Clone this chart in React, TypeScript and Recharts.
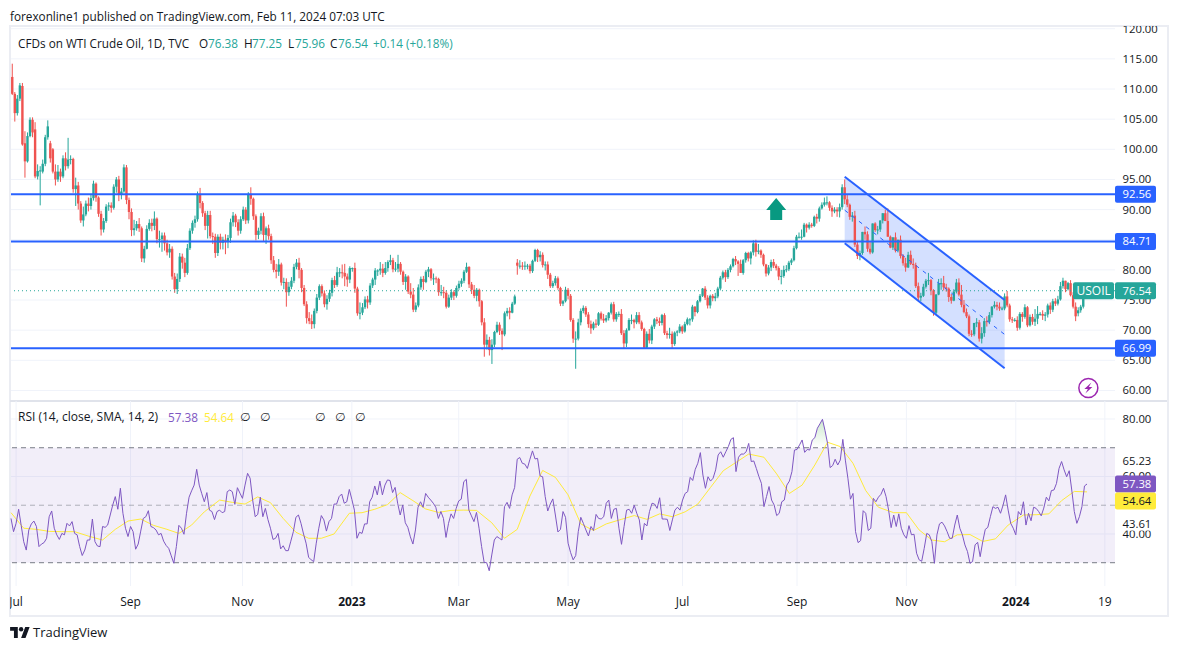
import {
  Area,
  Bar,
  CartesianGrid,
  ComposedChart,
  Line,
  ReferenceArea,
  ReferenceDot,
  ReferenceLine,
  XAxis,
  YAxis,
} from "recharts";

const opens = [
  112,109.2,106,108.4,110.5,101,98,102.2,104.9,103.3,
  95.5,96.4,96.3,97.6,102,101,100,96.3,95,96.3,
  95.5,98.5,97.2,98.3,98.4,93.4,94,91,88.2,89.2,
  91,90.6,91.9,94.3,92,89.3,86.7,88.1,90.5,90.7,
  90.3,93.8,95,92.5,93,97,91.6,89.6,86.6,86.9,
  87.6,86.9,81.9,83.5,86.8,87.8,87.3,88.5,85.1,85.1,
  85.7,84.4,82.9,83.5,78.9,76.8,78.5,82.2,81.2,79.5,
  83.6,86.5,87.8,88.4,92.6,91.1,89.4,87.3,89.1,85.6,
  85.5,82.8,85.5,84.5,85,84.6,85.3,87.9,89,87.9,
  86.5,88.4,90,88.2,92.6,91.8,88.9,85.8,86.5,88.9,
  85.8,86.9,85.6,81.6,80,79.7,80.9,77.9,78,76.3,
  77.2,78.2,80.5,81.2,80,77,74.3,72,71.5,71,
  73.2,75.4,77.3,76.1,74.3,75.2,76.2,78.3,77.5,79.6,
  79.6,79.5,78.9,78.4,80.3,80.3,76.9,72.8,72.9,73.8,
  75.1,74.6,77.4,78.4,79.9,79.9,80.2,79.5,80.3,81.3,
  81.6,80.1,80.2,81,79.7,78,78.9,76.4,75.9,73.4,
  74.1,77.1,78.5,78,79.7,80.1,78.6,78.6,78.5,76.3,
  76.3,76.2,73.9,75.4,76.3,75.7,77,77.7,78.2,79.7,
  80.5,77.6,76.7,75.7,76.7,74.8,71.3,67.6,68.4,66.7,
  67.6,69.7,70.9,69.9,69.3,72.8,73.2,72.9,74.4,81.2,
  80.7,80.7,80.6,80.7,80.7,79.8,81.5,83.3,82.1,82.5,
  80.8,80.9,79.2,77.3,77.8,78.6,77,74.4,74.8,76.7,
  75.7,71.7,68.6,68.6,71.3,73.2,73.7,72.6,71,70.3,
  71.1,70.9,72.8,71.9,71.6,72,72.9,74.3,71.8,72.7,
  72.7,69.5,67.8,70,71.7,71.7,71.3,72.5,71.3,70.2,
  67.1,69.4,68.3,70.6,71.8,71.5,71.2,72.5,69.5,69.2,
  69.4,67.7,69.6,69.8,70.6,69.8,71,71.8,71.8,73.9,
  73,74.8,75.7,76.9,75.4,74.1,75.7,75.3,75.6,76.9,
  78.7,79.6,78.8,80,80.6,81.8,81.4,81,79.5,81.6,
  82.8,81.9,82.9,84.4,83,83.2,82.5,80.9,79.4,80.4,
  81.3,80.7,80.3,78.9,79,80,80.1,81.2,81.6,83.6,
  85.5,85.5,85.5,87.5,87,87.5,87.3,88.8,88.5,90.2,
  90.8,91.2,91.2,90.3,89.7,90,89.7,90.4,93.7,91.7,
  90.8,88.8,89,84.2,82.3,82.8,86.3,85.9,83.5,82.9,
  87.7,86.6,86.7,88.2,89.4,88.1,85.5,83.7,85.4,83.2,
  85,82.3,81.1,80.4,82.5,81,80.8,77.3,75.4,75.7,
  77.2,78.2,78.3,76.6,72.9,75.9,77.8,77.8,77.1,76.9,
  75.5,74.9,76.4,77.9,75.9,74.2,73,72.3,69.4,69.3,
  71.2,71.3,68.6,69.5,71.5,71.4,72.5,73.9,74.2,73.9,
  73.6,73.6,75.6,74.1,71.8,71.7,71.7,70.4,72.7,72.2,
  73.8,70.8,72.2,71.4,71.9,72.7,72.7,72.4,72.6,74.1,
  73.4,74.8,74.4,75.1,77.3,78.2,76.8,77.8,75.8,73.9,
  72.8,73.3,73.9,76.38,
];

const highs = [
  114.2,109.5,109,111,111,103,102.8,105.3,105.3,104.5,
  97.5,97.2,98.3,102.4,104.8,101.4,100.2,97.5,97.4,96.8,
  99,99.5,101.9,99,98.6,95.3,94.6,91.4,90.5,91.5,
  92,92.6,94.8,94.5,92.2,89.8,88.6,90.9,91.2,91.2,
  94.2,95.4,95.6,93.6,97.5,97.4,92,90.2,88.3,88.1,
  88.6,87.2,84,87.4,88.4,88.5,89.7,88.7,86.5,86.2,
  86.2,85,84.3,83.9,79.5,79.4,82.8,82.7,82,84.3,
  86.9,88.2,89,93,93.6,91.4,89.8,89.8,89.8,86.2,
  86,85.9,86,85.5,85.9,85.8,88.5,89.6,89.3,88.4,
  88.9,90.5,90.4,92.9,93.7,92,89.2,87,89.4,89.5,
  87.2,87.5,86,82.3,81,81.8,81.2,78.7,78.6,78,
  78.8,81,81.8,82,80.3,77.5,74.8,73,72.6,73.6,
  76,77.6,77.6,76.6,75.8,76.7,78.7,79,80.5,80.3,
  80.9,81,79.4,80.6,80.4,81.2,77.2,74.6,74.5,75.6,
  75.7,77.8,78.7,80.3,80.1,81.3,81,81.3,81.6,82.5,
  82,81.3,82.5,81.3,79.9,79.3,79.1,77.8,77,74.6,
  77.6,78.9,79,80,80.5,80.3,79.4,78.9,78.7,77.5,
  77.2,76.6,75.9,76.8,76.6,77.4,78.2,78.6,80,81.2,
  80.6,78,77.5,77,76.9,75,72,69.3,68.9,68.5,
  69.9,71.4,71.3,70.3,73.1,73.7,73.8,74.7,75.9,81.8,
  81.6,81.3,81.4,81,81,81.7,83.5,83.5,83.1,82.9,
  81.4,81.4,79.5,78.2,79,78.9,77.2,75,77.2,77,
  76,72,69.8,71.9,73.6,74.1,74,73,71.6,71.4,
  71.8,73,73.1,72.7,72.5,73,74.6,74.7,73,73.1,
  73.5,70,70.3,72,72.6,71.9,73,73,71.6,70.4,
  69.8,70.2,70.9,72,72.2,72.1,72.7,72.8,69.9,70.4,
  69.8,69.8,70,71,70.8,71.4,72.1,72,74.2,74,
  75,76,77,77.3,75.8,75.9,76,76.2,77.2,79,
  79.9,80,80.3,80.9,82,82.3,81.6,81.7,81.8,83,
  83,83.1,84.9,85,84.3,83.4,82.7,81,80.8,81.7,
  81.8,81,80.6,80,80.7,80.8,81.5,81.9,84,85.8,
  86.2,86.7,87.8,87.7,87.9,87.8,89,89.3,90.5,91.2,
  92,92.2,91.4,90.7,90.4,90.4,91,94.2,95,92.4,
  91,89.6,89.8,84.7,83.2,84.2,87.2,86.4,84.6,85.3,
  87.9,87.3,87.5,89,90,90.2,85.7,84.5,86.2,84.8,
  85.7,82.6,82,83,83.2,81.9,81.2,77.9,76.2,77.7,
  78.5,79.5,78.5,76.8,76,78.5,78.6,79,77.7,77.1,
  76,76.8,78.5,78.6,77.5,75,73.6,72.6,70,70.4,
  72,71.7,70.5,72,72.3,73,74,74.8,74.7,74.6,
  73.9,76.1,76.5,74.4,72.2,72,72.3,73,73,74.3,
  74,72.6,72.7,73.5,74,73,73.3,73,74.4,74.6,
  75.2,75.3,75.7,78,78.7,77.6,78,78.3,76.3,74.6,
  73.8,74.2,76.6,77.25,
];

const lows = [
  109,104.6,105.6,108,100.6,95.3,97.8,102,102,95.2,
  95,90.7,96,97.2,101.6,97.8,96,94,94.6,94.6,
  95.2,96.5,96.8,97.5,92.8,90.6,90,87.8,87.2,88.9,
  89.7,90,91.5,91.3,88.8,85.7,86.2,87.8,89.8,89.5,
  90,92.8,91.4,91.7,92.8,90.9,88.4,85.6,85.7,86.5,
  86.3,81.3,81.2,83.4,86.5,86.4,86.6,84.4,83.7,83,
  83.2,82.4,82,78.4,76.2,76,78,80.2,78.8,79.2,
  83.3,86,87,88,90.2,88.8,86.6,85.2,85.2,84.3,
  82,82.3,83.4,83.4,82.6,83.6,84.5,87.2,87.1,85.7,
  86,88.1,87.6,87.7,90.8,88.3,84.9,85.1,85.9,84.8,
  84.3,85,81,79.6,78.6,79,77.4,76.8,73.9,75.7,
  76.8,77.8,80.1,78.6,76.3,74,71.1,71,70.2,70.3,
  72.8,75,75.6,73.8,73.4,74.7,75.6,77,77.2,78.8,
  78.6,77.3,77.2,77.8,79.7,76.2,72.4,71.8,72.5,73.5,
  73.6,74.2,77,77.5,79,79.2,78.8,79.2,79.7,80.8,
  79.6,79.7,79.6,79.2,77.5,76.7,76,75.3,73,73,
  73.8,76.7,76.7,77.8,78.8,78.2,77.5,77.8,75.7,75.7,
  75.3,73.6,73.7,75,75,75.4,76.7,77.2,77.8,79.5,
  77,76,75.3,74.8,73.9,70.8,65.6,66.8,65.8,64.4,
  67.2,69.5,69.2,66.7,69,72.3,71.8,72.8,74.2,79.2,
  80.2,80,80,80.1,79.4,79.5,81.3,81.3,81.4,80.4,
  79.9,78.5,77,77,77.4,76.7,74,74,74.6,75.1,
  71.4,67.9,63.6,68.3,70.8,72.8,72.2,70.4,69.4,70,
  70.4,70.7,71.6,71.2,71.3,71.6,72.6,71.4,71.4,72.2,
  69.2,67,67.2,69.9,71,70.3,71,71,69.9,66.9,
  67,67.8,67.7,70.2,71,70.7,70.8,69.2,68.6,68.6,
  67,67.4,69,69.5,69.4,69.6,70.8,70.8,71.4,72.3,
  72.8,74.6,75.5,75,73.6,73.6,74.8,74.8,75.3,76.6,
  78.4,78,78.5,79.6,80.4,80.8,79,80.9,79.2,81.2,
  81.4,80.9,82.4,82.2,82.6,82,80.6,78.9,79.1,79.8,
  80.3,79.9,78.3,77.6,78.7,79.6,79.8,80.8,81.4,83.4,
  85.2,85,85.4,86.2,86.7,87,87.1,87.7,88,90,
  90.5,90.7,89.8,88.8,89.4,88.8,88.7,90,90.9,90.4,
  88.3,88,83.8,81.8,81.6,82.5,85,83,82.6,82.7,
  86.3,85.9,86.3,87.7,88.1,87.9,83.6,83.3,82.9,82.9,
  81.9,80.7,79.7,80.3,80.8,80.2,77,75,74.8,75.5,
  76.9,77.5,75.8,72.4,72.5,75.8,76.7,76.6,76.4,74.7,
  74.4,74.8,76.1,75.6,73.8,72.8,72,69,68.9,69,
  70.5,68.1,67.8,68.9,70.6,71,72.1,73.6,73.3,73.2,
  73.3,73.3,73.8,71.4,71.2,71.4,69.9,70.1,71.4,71.9,
  70.5,70.6,70.9,70.7,71,72.4,71.7,71.5,72.1,72.7,
  73,74,74.1,74.9,76.9,76.3,76.6,75.6,73.6,71.5,
  72.3,72.9,73.6,75.96,
];

const closes = [
  109.2,106,108.4,110.6,100.8,98,102.2,104.9,102.8,95.5,
  96.4,96.5,97.6,102,103.8,98.5,96.3,95,96.3,95.5,
  98.5,97.2,98.3,98.4,93.4,94,91,88.2,89.2,91,
  90.6,91.9,94.3,92,89.3,86.7,88.1,90.5,90.7,90.3,
  93.8,95,92.5,93,97,91.6,89.6,86.6,86.9,87.6,
  86.9,81.9,83.5,86.8,87.8,87.3,88.5,85.1,85.1,85.7,
  84.4,82.9,83.5,78.9,76.8,78.5,82.2,81.2,79.5,83.6,
  86.5,87.8,88.4,92.6,91.1,89.4,87.3,89.1,85.6,85.5,
  82.8,85.5,84.5,85,84.6,85.3,87.9,89,87.9,86.5,
  88.4,90,88.2,92.6,91.8,88.9,85.8,86.5,88.9,85.8,
  86.9,85.6,81.6,80,79.7,80.9,77.9,78,76.3,77.2,
  78.2,80.5,81.2,80,77,74.3,72,71.5,71,73.2,
  75.4,77.3,76.1,74.3,75.2,76.2,78.3,77.5,79.6,79.6,
  79.5,78.9,78.4,80.3,80.3,76.9,72.8,72.9,73.8,75.1,
  74.6,77.4,78.4,79.9,79.9,80.2,79.5,80.3,81.3,81.6,
  80.1,80.2,81,79.7,78,78.9,76.4,75.9,73.4,74.1,
  77.1,78.5,78,79.7,80.1,78.6,78.6,78.5,76.3,76.3,
  76.2,73.9,75.4,76.3,75.7,77,77.7,78.2,79.7,80.5,
  77.6,76.7,75.7,76.7,74.8,71.3,67.6,68.4,66.7,67.6,
  69.7,70.9,69.9,69.3,72.8,73.2,72.9,74.4,75.6,80.7,
  80.7,80.6,80.7,80.7,79.8,81.5,83.3,82.1,82.5,80.8,
  80.9,79.2,77.3,77.8,78.6,77,74.4,74.8,76.7,75.7,
  71.7,68.6,68.6,71.3,73.2,73.7,72.6,71,70.3,71.1,
  70.9,72.8,71.9,71.6,72,72.9,74.3,71.8,72.7,72.7,
  69.5,67.8,70,71.7,71.7,71.3,72.5,71.3,70.2,67.1,
  69.4,68.3,70.6,71.8,71.5,71.2,72.5,69.5,69.2,69.4,
  67.7,69.6,69.8,70.6,69.8,71,71.8,71.8,73.9,73,
  74.8,75.7,76.9,75.4,74.1,75.7,75.3,75.6,76.9,78.7,
  79.6,78.8,80,80.6,81.8,81.4,81,79.5,81.6,82.8,
  81.9,82.9,84.4,83,83.2,82.5,80.9,79.4,80.4,81.3,
  80.7,80.3,78.9,79,80,80.1,81.2,81.6,83.6,85.5,
  85.5,85.5,87.5,87,87.5,87.3,88.8,88.5,90.2,90.8,
  91.2,91.2,90.3,89.7,90,89.7,90.4,93.7,91.7,90.8,
  88.8,89,84.2,82.3,82.8,86.3,85.9,83.5,82.9,87.7,
  86.6,86.7,88.2,89.4,88.1,85.5,83.7,85.4,83.2,85,
  82.3,81.1,80.4,82.5,81,80.8,77.3,75.4,75.7,77.2,
  78.2,78.3,76.6,72.9,75.9,77.8,77.8,77.1,76.9,75.5,
  74.9,76.4,77.9,75.9,74.2,73,72.3,69.4,69.3,71.2,
  71.3,68.6,69.5,71.5,71.4,72.5,73.9,74.2,73.9,73.6,
  73.6,75.6,74.1,71.8,71.7,71.7,70.4,72.7,72.2,73.8,
  70.8,72.2,71.4,71.9,72.7,72.7,72.4,72.6,74.1,73.4,
  74.8,74.4,75.1,77.3,78.2,76.8,77.8,75.8,73.9,72.3,
  73.3,73.9,76.4,76.54,
];

const rsiValues = [
  45.4,40.8,43.7,48.6,43,37.3,34.4,41.4,43.5,44.5,
  42.6,35.6,36.5,37,38.5,46,48,42,39.7,38.1,
  40.2,39.7,43.7,42.8,44.3,40.2,39.7,35.6,32.5,34.4,
  37.9,37.9,45.2,37.3,35.8,35.6,42.6,42.3,43.1,46.6,
  50.1,53,48.6,55.9,47.2,42,39.1,42.6,40.8,34.7,
  36.5,41,45.4,46,48.1,42.6,42.2,41.4,39.7,40.2,
  37.5,36,35,32.4,29.8,35.6,43,42,39.9,47.2,
  52.8,55,57,62.5,57,54,51.2,54.4,48.3,47.8,
  45,47.8,48.3,47.4,47.8,54.7,55.3,54.7,50.3,56.1,
  54.2,52.4,57,61.1,59.4,51.8,46,46.8,52.8,46,
  48.9,45,42,38.1,38.5,40.2,34.8,35.9,34.2,34.2,
  37.5,40.8,45.8,46.6,43.7,40,36.8,31.9,31,30.4,
  36.8,42,46.4,44.9,41,44.3,45.4,50.4,50.4,53,
  53.9,50.7,51.2,55.5,52,48.3,38.5,40.6,40.2,43.5,
  43.5,51.2,52.8,56.7,53.6,58.4,53.6,57,58.8,58.6,
  54.4,56.2,50.7,46.6,50.1,43.9,42.3,39,36.5,41.4,
  49.3,51.2,49.3,54.1,52.8,51.8,50.7,49.3,45.4,47.8,
  45.4,38.8,43.7,47,45.4,48.9,51.5,52.1,58.2,59,
  48.3,46.3,44.3,47.5,42,35.6,30.1,30,27.2,32.7,
  37.9,39.1,38.5,37.9,49.5,51,48.9,53.6,56.2,66,
  66.6,64.6,64.3,62.8,66,68.9,66.1,66.3,60.2,59.9,
  53,48,50.4,52.2,46.6,40.7,41.6,47.8,45.8,36.8,
  33.5,31,32.5,40.8,45.8,43.7,41.4,39.3,42.6,41.2,
  46.8,45.4,45.2,46,50.7,51.8,45.4,48.6,48.9,42,
  36.4,42.6,48.3,48.6,47.2,50,47.2,44.9,37.9,43.7,
  42.8,47.8,50.7,50.4,48.9,52.6,45.2,45.2,45.1,41.2,
  44.9,48.3,49.3,48.3,51.8,54.1,54.7,59.7,58.6,62.5,
  64.6,68.3,60.5,55.9,59.9,58.4,59.4,62.3,67.5,68.6,
  66.7,68.6,70.4,72.9,73.5,61.7,66.7,67.8,67.8,68.6,
  71.5,65.2,65.4,62.8,60,57.6,49.5,53,56.5,51.8,
  50.1,46.4,47.2,51.2,51.8,57,58.4,61.7,69.2,69.4,
  71,72.7,68.4,69.4,69.2,72.7,73.5,76.8,78.3,79.9,
  76,71.5,63.1,63.8,66,64,65.7,72.9,65.7,59.4,
  52.1,54.1,40.8,37,37.7,48.1,47.2,41.2,42,52.4,
  51.2,52.8,53.8,55.9,53,48.3,42.2,46.6,42.6,47,
  42,39.7,38.5,42.9,39.7,39.9,33.3,31,30.5,35,
  40.2,39.7,37.3,29.8,39.7,43.5,44.1,42.8,40.8,38.5,
  38.5,43.1,46.6,42,39.7,36.2,33.9,29.8,30.4,36.2,
  37.1,32.1,37.3,41.6,42.3,46,49.5,48.9,49.3,47.2,
  50,53.6,48.3,43.7,42,39.7,47.8,46.6,51.2,43.1,
  47.2,44.6,49.3,48.9,47.8,46.3,49,52.8,51.5,55.1,
  55.3,57.6,62.8,65.2,62.3,59.9,62,55.3,47.8,43.7,
  46,49.5,56.7,57.38,
];

// yellow RSI average at even steps along the line
const rsiAverage = [
  47.4,42,41.6,40.9,40.8,40.8,39.1,37.9,41.6,44.5,45.2,43,41.7,40.2,43.1,47.7,51.8,51,50.4,52.9,50.9,
  45.4,40.6,38.5,38.5,40,47.2,47.4,48.6,50.2,54.4,51.6,48.7,47.5,48.2,48.3,48.2,43.9,38.5,41.6,53.2,
  62.1,59.7,53.6,43.5,41.2,43.5,45.1,46.4,45.1,47,46,47.7,50.4,56.2,62,64.9,67.8,66.7,60.9,54.1,
  57,64,71.9,70.4,64.6,55.1,49.3,47.4,47.4,41.4,37.9,37.3,39.7,39.8,37.4,38.3,43.1,46.6,46.7,47,
  51.6,54.8,54.64,
];

const timeRows = [2, 47, 91, 134, 176, 219, 264, 309, 352, 395, 430];
const timeLabels = ["Jul", "Sep", "Nov", "2023", "Mar", "May", "Jul", "Sep", "Nov", "2024", "19"];

const priceGrid = [60, 65, 70, 75, 80, 85, 90, 95, 100, 105, 110, 115, 120];
const priceLevels = [92.56, 84.71, 66.99];
const lastPrice = 76.54;

const channelRows = [328, 391];
const channelTop = [95.46, 75];
const channelBottom = [84.41, 63.68];
const channelMiddle = [89.9, 69.3];

const rsiGrid = [80, 60, 40];
const rsiPlain = [65.23, 43.61];
const rsiLast = 57.38;
const rsiAverageLast = 54.64;

const ROW_COUNT = 435;
const LABEL_X = 1112.5;
const TAG_X = 1105;
const AXIS_FONT = 11.3;
const font = "'Open Sans', sans-serif";

const UP = "#26a69a";
const DOWN = "#ef5350";
const BLUE = "#2962ff";
const GRID = "#f0f3fa";
const INK = "#131722";
const PURPLE = "#7e57c2";
const YELLOW = "#ffeb3b";

const averageAt: Record<number, number> = {};
rsiAverage.forEach((v, i) => {
  averageAt[Math.round((i * (closes.length - 1)) / (rsiAverage.length - 1))] = v;
});

const rows = Array.from({ length: ROW_COUNT }, (_, row) => {
  const base: any = { row };
  if (row < closes.length) {
    base.open = opens[row];
    base.close = closes[row];
    base.high = Math.max(highs[row], opens[row], closes[row]);
    base.low = Math.min(lows[row], opens[row], closes[row]);
    base.range = [base.low, base.high];
    base.rsi = rsiValues[row];
    base.overbought = rsiValues[row] > 70 ? [70, rsiValues[row]] : null;
  }
  if (averageAt[row] !== undefined) base.rsiAverage = averageAt[row];
  const c = channelRows.indexOf(row);
  if (c >= 0) base.channel = [channelBottom[c], channelTop[c]];
  return base;
});

const Candle = (props: any) => {
  const { x, y, width, height, payload } = props;
  if (!payload || payload.open === undefined || !(height > 0)) return null;
  const cx = x + width / 2;
  const perUnit = height / (payload.high - payload.low);
  const toY = (v: number) => y + (payload.high - v) * perUnit;
  const top = toY(Math.max(payload.open, payload.close));
  const bottom = toY(Math.min(payload.open, payload.close));
  const fill = payload.close >= payload.open ? UP : DOWN;
  return (
    <g>
      <rect x={cx - 0.5} y={y} width={1} height={height} fill={fill} />
      <rect x={cx - 1.2} y={top} width={2.4} height={Math.max(bottom - top, 1)} fill={fill} />
    </g>
  );
};

const tagBox = (y: number, value: number, fill: string, color = "#fff") => (
  <g>
    <rect x={TAG_X} y={y - 8.5} width={41} height={17} rx={2} fill={fill} />
    <text x={LABEL_X} y={y + 4} fontSize={AXIS_FONT} fontFamily={font} fill={color}>
      {value.toFixed(2)}
    </text>
  </g>
);

const plainLabel = (y: number, value: number) => (
  <text x={LABEL_X} y={y + 4} fontSize={AXIS_FONT} fontFamily={font} fill={INK}>
    {value.toFixed(2)}
  </text>
);

const priceTick = (props: any) => {
  const value = props.payload.value;
  if (priceLevels.includes(value)) return tagBox(props.y, value, BLUE);
  if (value === lastPrice) {
    return (
      <g>
        <rect x={1063} y={props.y - 8.5} width={41} height={17} rx={2} fill={UP} />
        <text x={1066.5} y={props.y + 4} fontSize={12} fontFamily={font} fill="#fff">
          USOIL
        </text>
        {tagBox(props.y, value, UP)}
      </g>
    );
  }
  return plainLabel(props.y, value);
};

const rsiTick = (props: any) => {
  const value = props.payload.value;
  if (value === rsiLast) return tagBox(props.y, value, PURPLE);
  if (value === rsiAverageLast) return tagBox(props.y + 9, value, YELLOW, INK);
  if (rsiPlain.includes(value)) {
    return (
      <g>
        <rect x={LABEL_X - 2} y={props.y - 7} width={38} height={14} fill="#fff" />
        {plainLabel(props.y, value)}
      </g>
    );
  }
  return plainLabel(props.y, value);
};

const arrowMark = (props: any) => {
  const { cx, cy } = props;
  const pts = [
    [cx, cy - 11],
    [cx + 10, cy + 1],
    [cx + 6, cy + 1],
    [cx + 6, cy + 11],
    [cx - 6, cy + 11],
    [cx - 6, cy + 1],
    [cx - 10, cy + 1],
  ];
  return <polygon points={pts.map((p) => p.join(",")).join(" ")} fill="#089981" />;
};

const boltMark = (props: any) => {
  const { cx, cy } = props;
  return (
    <g>
      <circle cx={cx} cy={cy} r={9.5} fill="#fff" stroke="#9c27b0" strokeWidth={1.5} />
      <path
        d={`M${cx + 3} ${cy - 5.5}L${cx - 4} ${cy + 1}H${cx - 0.5}L${cx - 3} ${cy + 5.5}L${cx + 4} ${cy - 1}H${cx + 0.5}Z`}
        fill="#9c27b0"
      />
    </g>
  );
};

const timeTick = (props: any) => {
  const label = timeLabels[timeRows.indexOf(props.payload.value)];
  return (
    <text
      x={props.x}
      y={props.y + 12}
      textAnchor="middle"
      fontSize={12}
      fontFamily={font}
      fontWeight={/^\d{4}$/.test(label) ? 700 : 400}
      fill={INK}
    >
      {label}
    </text>
  );
};

const textAt = (left: number, top: number, extra: any = {}) => ({
  position: "absolute" as const,
  left,
  top,
  fontFamily: font,
  fontSize: 11.75,
  lineHeight: "16px",
  color: INK,
  whiteSpace: "nowrap" as const,
  ...extra,
});

export default function App() {
  return (
    <div style={{ position: "absolute", left: 0, top: 0, width: 1177, height: 650, background: "#fff", overflow: "hidden" }}>
      <div style={textAt(10, 8)}>forexonline1 published on TradingView.com, Feb 11, 2024 07:03 UTC</div>
      <div
        style={{
          position: "absolute",
          left: 9,
          top: 25,
          width: 1156,
          height: 588,
          border: "2px solid #ebedf3",
        }}
      />
      <div style={{ position: "absolute", left: 10, top: 400, width: 1157, height: 1.5, background: "#e0e3eb" }} />

      <div style={{ position: "absolute", left: 10, top: 26 }}>
        <ComposedChart
          width={1157}
          height={374}
          data={rows}
          margin={{ top: 0, right: 0, bottom: 0, left: 1 }}
        >
          <CartesianGrid stroke={GRID} horizontalValues={priceGrid} syncWithTicks />
          <XAxis dataKey="row" ticks={timeRows} interval={0} height={0} tick={false} axisLine={false} tickLine={false} />
          <YAxis
            orientation="right"
            width={52}
            domain={[58.42, 120.45]}
            allowDataOverflow
            ticks={[...priceGrid, ...priceLevels, lastPrice]}
            interval={0}
            axisLine={false}
            tickLine={false}
            tick={priceTick}
          />
          <Area
            dataKey="channel"
            connectNulls
            stroke="none"
            fill={BLUE}
            fillOpacity={0.2}
            dot={false}
            activeDot={false}
            isAnimationActive={false}
          />
          <ReferenceLine y={lastPrice} stroke={UP} strokeDasharray="1 3" />
          <Bar dataKey="range" shape={Candle} isAnimationActive={false} />
          {priceLevels.map((level) => (
            <ReferenceLine key={level} y={level} stroke={BLUE} strokeWidth={2} />
          ))}
          <ReferenceLine
            segment={[
              { x: channelRows[0], y: channelTop[0] },
              { x: channelRows[1], y: channelTop[1] },
            ]}
            stroke={BLUE}
            strokeWidth={2}
          />
          <ReferenceLine
            segment={[
              { x: channelRows[0], y: channelBottom[0] },
              { x: channelRows[1], y: channelBottom[1] },
            ]}
            stroke={BLUE}
            strokeWidth={2}
          />
          <ReferenceLine
            segment={[
              { x: channelRows[0], y: channelMiddle[0] },
              { x: channelRows[1], y: channelMiddle[1] },
            ]}
            stroke={BLUE}
            strokeDasharray="4 5"
          />
          <ReferenceDot x={301} y={90.1} shape={arrowMark} />
          <ReferenceDot x={424} y={60.4} shape={boltMark} />
        </ComposedChart>
      </div>

      <div style={{ position: "absolute", left: 10, top: 401 }}>
        <ComposedChart
          width={1157}
          height={213}
          data={rows}
          margin={{ top: 0, right: 0, bottom: 0, left: 1 }}
        >
          <CartesianGrid stroke={GRID} horizontalValues={rsiGrid} syncWithTicks />
          <XAxis
            dataKey="row"
            ticks={timeRows}
            interval={0}
            height={28}
            axisLine={false}
            tickLine={false}
            tick={timeTick}
          />
          <YAxis
            orientation="right"
            width={52}
            domain={[21.9, 86.26]}
            allowDataOverflow
            ticks={[...rsiGrid, ...rsiPlain, rsiLast, rsiAverageLast]}
            interval={0}
            axisLine={false}
            tickLine={false}
            tick={rsiTick}
          />
          <ReferenceArea y1={30} y2={70} fill={PURPLE} fillOpacity={0.1} stroke="none" />
          <ReferenceLine y={70} stroke="#787b86" strokeDasharray="5 4" />
          <ReferenceLine y={50} stroke="#787b86" strokeOpacity={0.55} strokeDasharray="5 4" />
          <ReferenceLine y={30} stroke="#787b86" strokeDasharray="5 4" />
          <defs>
            <linearGradient id="overboughtFill" x1="0" y1="0" x2="0" y2="1">
              <stop offset="0%" stopColor="#4caf50" stopOpacity={0.28} />
              <stop offset="100%" stopColor="#4caf50" stopOpacity={0} />
            </linearGradient>
          </defs>
          <Area
            dataKey="overbought"
            stroke="none"
            fill="url(#overboughtFill)"
            fillOpacity={1}
            dot={false}
            activeDot={false}
            isAnimationActive={false}
          />
          <Line
            dataKey="rsiAverage"
            connectNulls
            stroke={YELLOW}
            strokeWidth={1}
            dot={false}
            activeDot={false}
            isAnimationActive={false}
          />
          <Line
            dataKey="rsi"
            stroke={PURPLE}
            strokeWidth={1}
            dot={false}
            activeDot={false}
            isAnimationActive={false}
          />
        </ComposedChart>
      </div>

      <div style={textAt(18, 35)}>CFDs on WTI Crude Oil, 1D, TVC</div>
      <div style={textAt(199, 35)}>O</div>
      <div style={textAt(208, 35, { color: UP })}>76.38</div>
      <div style={textAt(244, 35)}>H</div>
      <div style={textAt(252, 35, { color: UP })}>77.25</div>
      <div style={textAt(288, 35)}>L</div>
      <div style={textAt(295, 35, { color: UP })}>75.96</div>
      <div style={textAt(330, 35)}>C</div>
      <div style={textAt(338, 35, { color: UP })}>76.54</div>
      <div style={textAt(373, 35, { color: UP })}>+0.14 (+0.18%)</div>

      <div style={textAt(18, 409, { fontSize: 12 })}>RSI (14, close, SMA, 14, 2)</div>
      <div style={textAt(168, 409, { color: PURPLE })}>57.38</div>
      <div style={textAt(204, 409, { color: YELLOW })}>54.64</div>
      {[240, 260, 315, 335, 355].map((left) => (
        <div key={left} style={textAt(left, 409, { fontFamily: "'DejaVu Sans'" })}>∅</div>
      ))}

      <svg style={{ position: "absolute", left: 10, top: 627 }} width={20} height={11} viewBox="0 0 36 20">
        <path d="M14 20H7V7H0V0h14v20zM28 20h-8l7.5-20h8L28 20z" fill={INK} />
        <circle cx={20} cy={4} r={4} fill={INK} />
      </svg>
      <div style={textAt(33, 624, { fontSize: 13 })}>TradingView</div>
    </div>
  );
}
